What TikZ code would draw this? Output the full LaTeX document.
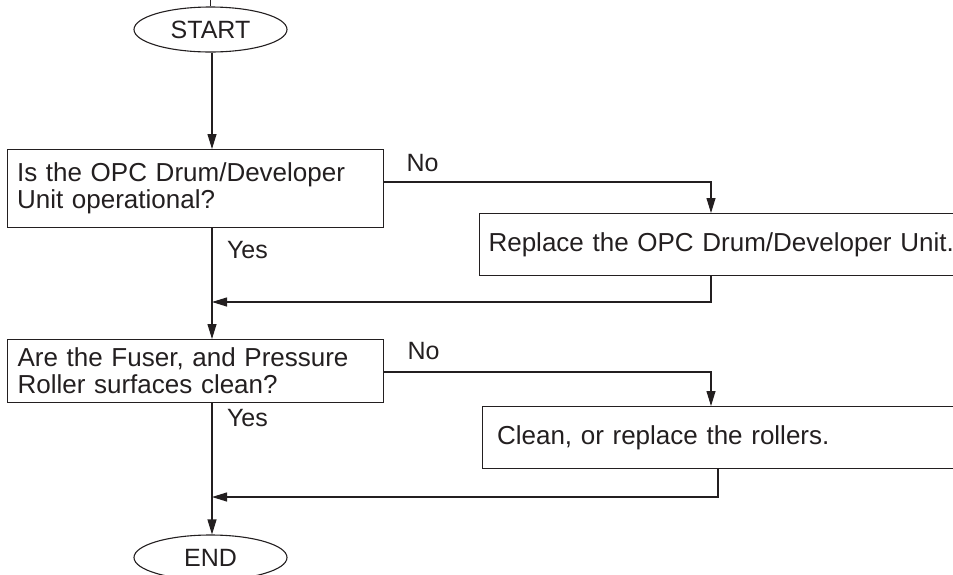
\documentclass[tikz,border=0pt]{standalone}
\usepackage{fontspec}
\setmainfont{Liberation Sans}
\usetikzlibrary{arrows.meta,shapes.geometric}
\definecolor{ink}{HTML}{231F20}
\begin{document}
\begin{tikzpicture}[x=1pt,y=-1pt,
  line width=1.1pt, color=ink,
  box/.style={draw=ink, rectangle, anchor=north west, inner xsep=9pt, inner ysep=0pt, align=left, font=\fontsize{26}{27}\selectfont},
  term/.style={draw=ink, ellipse, minimum width=153pt, minimum height=45pt, inner sep=0pt, font=\fontsize{25}{27}\selectfont},
  lbl/.style={anchor=base west, inner sep=0pt, font=\fontsize{25}{27}\selectfont},
  arr/.style={-{Triangle[length=15pt,width=9pt]}}]
\clip (0,0) rectangle (953,574);
% terminals
\node[term] (start) at (210.5,29.5) {START};
\node[term] (end) at (210.5,557.5) {END};
% boxes
\node[box, minimum width=376pt, minimum height=78pt, text width=357pt, inner xsep=9.5pt] (q1) at (7,149) {Is the OPC Drum/Developer\\Unit operational?};
\node[box, minimum width=496.5pt, minimum height=62pt, text width=477.5pt, inner xsep=9.5pt] (a1) at (478.5,213) {Replace the OPC Drum/Developer Unit.};
\node[box, minimum width=376pt, minimum height=63pt, text width=356pt, inner xsep=10pt] (q2) at (7,339) {Are the Fuser, and Pressure\\Roller surfaces clean?};
\node[box, minimum width=493.5pt, minimum height=61.5pt, text width=463.5pt, inner xsep=15pt] (a2) at (481.5,406) {Clean, or replace the rollers.};
% helper coordinates
\coordinate (top) at (210.5,0);
\coordinate (trunk) at (212,0);
\coordinate (no1) at (711,182);
\coordinate (ret1) at (711,302);
\coordinate (no2) at (711,372);
\coordinate (ret2) at (718,497);
% connectors
\draw (top) -- (start.north);
\draw[arr] (start.south -| trunk) -- (q1.north -| trunk);
\draw[arr] (q1.east |- no1) -| (a1.north -| no1);
\draw[arr] (a1.south -| ret1) |- (trunk |- ret1);
\draw[arr] (q1.south -| trunk) -- (q2.north -| trunk);
\draw[arr] (q2.east |- no2) -| (a2.north -| no2);
\draw[arr] (a2.south -| ret2) |- (trunk |- ret2);
\draw[arr] (q2.south -| trunk) -- (end.north -| trunk);
% labels
\node[lbl] (no1l) at (406,171.7) {No};
\node[lbl] (yes1) at (226.5,258.3) {Yes};
\node[lbl] (no2l) at (407,359.3) {No};
\node[lbl] (yes2) at (226.5,426.7) {Yes};
\end{tikzpicture}
\end{document}
